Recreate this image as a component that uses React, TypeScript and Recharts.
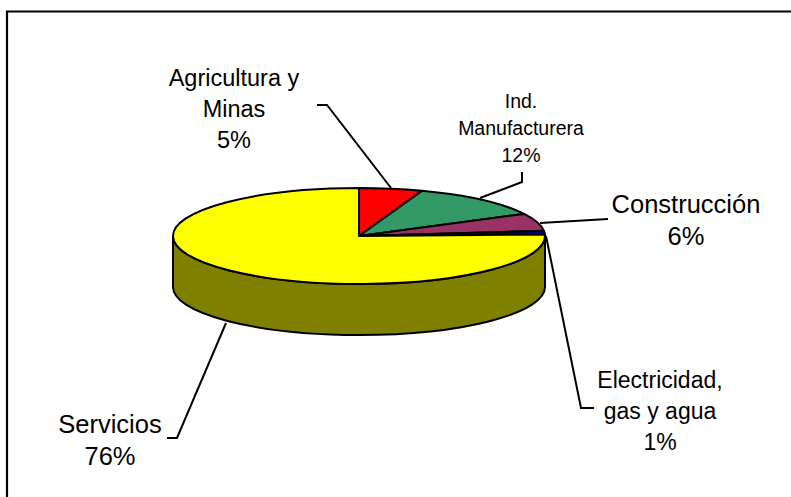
import { PieChart, Pie, Customized } from 'recharts';

const sectorNames = ['Agricultura y|Minas', 'Ind.|Manufacturera', 'Construcción', 'Electricidad,|gas y agua', 'Servicios'];
const sectorValues = [5.49, 11.9, 5.9, 1.2, 75.51];
const sectorColors = ['#ff0000', '#339966', '#993366', '#000080', '#ffff00'];
const wallColors = ['#800000', '#1a4d33', '#4d1a33', '#000040', '#808000'];

const W = 791;
const H = 497;
const CX = 359;
const CY = 236;
const RX = 186;
const RY = 48;
const DEPTH = 51;
const FONT = '"Liberation Sans", Arial, sans-serif';

// label boxes and leader lines, same order as the sectors
const labelStyle = [
  { x: 234, y: 86, size: 23.5, gap: 31, leader: '317,105 327,105 391,188' },
  { x: 521, y: 108, size: 19.5, gap: 27, leader: '522,172 522,182 480,198' },
  { x: 686, y: 213, size: 25.5, gap: 32, leader: '608,219 540,223' },
  { x: 660, y: 388, size: 23, gap: 31, leader: '546,236 581,408 594,408' },
  { x: 110, y: 433, size: 25.5, gap: 32, leader: '226,323 177,438 167,438' },
];

const chartData = sectorNames.map((name, i) => ({
  name,
  value: sectorValues[i],
  fill: sectorColors[i],
  wall: wallColors[i],
}));

const toPoint = (cx: number, cy: number, r: number, deg: number) => {
  const a = (deg * Math.PI) / 180;
  return [cx + r * Math.cos(a), cy - r * (RY / RX) * Math.sin(a)];
};

// top face of a sector, squashed into the ellipse
function TopSlice(props: any) {
  const { cx, cy, outerRadius, startAngle, endAngle, fill } = props;
  const [x0, y0] = toPoint(cx, cy, outerRadius, startAngle);
  const [x1, y1] = toPoint(cx, cy, outerRadius, endAngle);
  const large = Math.abs(endAngle - startAngle) > 180 ? 1 : 0;
  const d = `M${cx},${cy}L${x0},${y0}A${outerRadius},${outerRadius * (RY / RX)} 0 ${large} 1 ${x1},${y1}Z`;
  return <path d={d} fill={fill} stroke="#000" strokeWidth={2} strokeLinejoin="round" />;
}

// side wall, only the part of the rim that faces the viewer
function WallSlice(props: any) {
  const { cx, cy, outerRadius, startAngle, endAngle, payload } = props;
  const hi = Math.min(startAngle, 0);
  const lo = Math.max(endAngle, -180);
  if (hi <= lo) return null;
  const ry = outerRadius * (RY / RX);
  const [x0, y0] = toPoint(cx, cy, outerRadius, hi);
  const [x1, y1] = toPoint(cx, cy, outerRadius, lo);
  const d = `M${x0},${y0}L${x0},${y0 + DEPTH}A${outerRadius},${ry} 0 0 1 ${x1},${y1 + DEPTH}L${x1},${y1}A${outerRadius},${ry} 0 0 0 ${x0},${y0}Z`;
  return <path d={d} fill={payload.wall} stroke="#000" strokeWidth={2} strokeLinejoin="round" />;
}

function SliceLabels() {
  const total = sectorValues.reduce((a, b) => a + b, 0);
  return (
    <g>
      {sectorNames.map((name, i) => {
        const s = labelStyle[i];
        const lines = [...name.split('|'), `${Math.round((sectorValues[i] / total) * 100)}%`];
        return (
          <g key={name}>
            <polyline points={s.leader} fill="none" stroke="#000" strokeWidth={2} />
            <text x={s.x} y={s.y} textAnchor="middle" fontFamily={FONT} fontSize={s.size} fill="#000">
              {lines.map((line, j) => (
                <tspan key={j} x={s.x} dy={j === 0 ? 0 : s.gap}>
                  {line}
                </tspan>
              ))}
            </text>
          </g>
        );
      })}
    </g>
  );
}

export default function App() {
  return (
    <div style={{ position: 'absolute', left: 0, top: 0, width: W, height: H, background: '#fff' }}>
      <PieChart width={W} height={H} margin={{ top: 0, right: 0, bottom: 0, left: 0 }}>
        <Customized
          component={() => (
            <path d={`M7,${H}L7,11.5L${W},11.5`} fill="none" stroke="#000" strokeWidth={2.2} />
          )}
        />
        <Pie
          data={chartData}
          dataKey="value"
          cx={CX}
          cy={CY}
          outerRadius={RX}
          startAngle={90}
          endAngle={-270}
          stroke="none"
          shape={WallSlice}
          isAnimationActive={false}
        />
        <Pie
          data={chartData}
          dataKey="value"
          cx={CX}
          cy={CY}
          outerRadius={RX}
          startAngle={90}
          endAngle={-270}
          stroke="none"
          shape={TopSlice}
          isAnimationActive={false}
        />
        <Customized component={SliceLabels} />
      </PieChart>
    </div>
  );
}
